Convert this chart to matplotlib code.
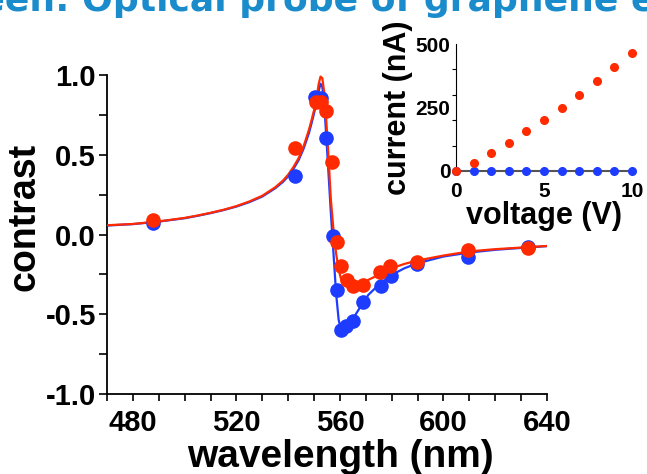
import numpy as np
import matplotlib.pyplot as plt
from matplotlib.ticker import MultipleLocator

plt.rcParams['font.family'] = ['Liberation Sans', 'DejaVu Sans']
plt.rcParams['font.weight'] = 'bold'

# --- datos: espectro de contraste ---
blue_wl = [487.7, 542.6, 550.3, 552.6, 554.8, 557.2, 558.7, 560.3, 562.3,
           565.2, 569.0, 575.7, 579.6, 589.7, 609.4, 632.6]
blue_c = [0.075, 0.367, 0.864, 0.858, 0.607, -0.008, -0.347, -0.597, -0.576,
          -0.545, -0.426, -0.322, -0.263, -0.184, -0.144, -0.081]

red_wl = [487.7, 542.6, 550.7, 552.6, 554.8, 556.8, 558.7, 560.6, 562.8,
          565.2, 568.8, 575.5, 579.4, 589.7, 609.4, 632.6]
red_c = [0.092, 0.541, 0.833, 0.833, 0.775, 0.453, -0.044, -0.200, -0.288,
         -0.326, -0.315, -0.238, -0.200, -0.173, -0.096, -0.086]

# curvas de ajuste
fit_wl = [470, 480, 490, 500, 505, 510, 515, 520, 525, 530, 535, 538, 540,
          542, 544, 546, 548, 549, 550, 551, 551.8, 552.5, 553.2, 554, 554.7,
          555.5, 556.5, 557.5, 558.5, 559.5, 560.5, 562, 564, 566, 568, 571,
          575, 580, 585, 590, 600, 610, 620, 630, 640]
fit_blue = [0.056, 0.065, 0.081, 0.102, 0.117, 0.134, 0.153, 0.175, 0.203,
            0.238, 0.29, 0.33, 0.365, 0.41, 0.465, 0.54, 0.635, 0.695, 0.76,
            0.83, 0.90, 0.945, 0.925, 0.80, 0.62, 0.405, 0.134, -0.117, -0.367,
            -0.534, -0.607, -0.597, -0.555, -0.503, -0.451, -0.378, -0.315,
            -0.253, -0.211, -0.180, -0.138, -0.113, -0.096, -0.084, -0.073]
fit_red = [0.058, 0.066, 0.082, 0.104, 0.119, 0.136, 0.155, 0.178, 0.207,
           0.243, 0.296, 0.338, 0.375, 0.422, 0.478, 0.555, 0.655, 0.715, 0.78,
           0.86, 0.945, 0.99, 0.98, 0.88, 0.72, 0.51, 0.217, 0.029, -0.117,
           -0.221, -0.284, -0.315, -0.326, -0.321, -0.309, -0.284, -0.253,
           -0.211, -0.184, -0.163, -0.132, -0.106, -0.092, -0.082, -0.072]

# --- datos: curva I-V (inset) ---
voltage = [0, 1, 2, 3, 4, 5, 6, 7, 8, 9, 10]
current_red = [0, 31.6, 69.7, 111.8, 156.6, 202.6, 250, 298.7, 353.9, 407.9, 465.8]
current_blue = [0, 0, 0, 0, 0, 0, 0, 0, 0, 0, 0]

BLUE = '#1d3cff'
RED = '#ff2a00'

fig = plt.figure(figsize=(6.47, 4.74), dpi=100)

# titulo (cortado arriba, como en la diapositiva)
title_kw = dict(color='#1a8ccc', fontsize=26, fontweight='bold',
                family=['DejaVu Sans'], ha='left', va='baseline')
prefix = 'Screen: '
renderer = fig.canvas.get_renderer()
tmp = fig.text(0, 0, prefix, **title_kw)
pre_w = tmp.get_window_extent(renderer).width
tmp.remove()
fig.text((82 - pre_w) / 647, 1.0 - 11 / 474,
         prefix + 'Optical probe of graphene electronic structure', **title_kw)

ax = fig.add_axes([107 / 647, 80 / 474, 440 / 647, 319 / 474])
ax.plot(fit_wl, fit_blue, color=BLUE, lw=1.6, zorder=2)
ax.plot(fit_wl, fit_red, color=RED, lw=1.6, zorder=3)
ax.plot(blue_wl, blue_c, 'o', color=BLUE, ms=9.5, zorder=4)
ax.plot(red_wl, red_c, 'o', color=RED, ms=9.5, zorder=5)

ax.set_xlim(470, 640)
ax.set_ylim(-1.0, 1.0)
ax.set_xticks([480, 520, 560, 600, 640])
ax.xaxis.set_minor_locator(MultipleLocator(10))
ax.set_yticks([-1.0, -0.5, 0.0, 0.5, 1.0])
ax.set_yticklabels(['-1.0', '-0.5', '0.0', '0.5', '1.0'])
ax.yaxis.set_minor_locator(MultipleLocator(0.25))
for side in ['top', 'right']:
    ax.spines[side].set_visible(False)
for side in ['left', 'bottom']:
    ax.spines[side].set_linewidth(1.3)
ax.tick_params(axis='both', which='both', direction='out', width=1.2,
               labelsize=21)
ax.tick_params(axis='y', which='both', length=6, pad=2)
ax.tick_params(axis='x', which='both', length=5, pad=6)
ax.set_xlabel('wavelength (nm)', fontsize=28, fontweight='bold')
ax.set_ylabel('contrast', fontsize=27, fontweight='bold')
ax.xaxis.set_label_coords(0.53, -0.14)
ax.yaxis.set_label_coords(-0.147, 0.555)

# --- inset ---
axi = fig.add_axes([456 / 647, (474 - 171) / 474, 176 / 647, 127 / 474])
axi.plot(voltage, current_blue, 'o', color=BLUE, ms=5.5, clip_on=False, zorder=4)
axi.plot(voltage, current_red, 'o', color=RED, ms=5.5, clip_on=False, zorder=5)
axi.set_xlim(0, 10)
axi.set_ylim(0, 500)
axi.set_xticks([0, 5, 10])
axi.set_yticks([0, 250, 500])
axi.set_yticks([100, 200, 300, 400, 500], minor=True)
for side in ['top', 'right']:
    axi.spines[side].set_visible(False)
axi.spines['bottom'].set_color('#555555')
axi.spines['bottom'].set_linewidth(1.5)
axi.tick_params(axis='x', which='both', length=0, labelsize=15, pad=8)
axi.tick_params(axis='y', which='major', length=0, labelsize=15, pad=4)
axi.tick_params(axis='y', which='minor', length=3, width=0.8)
axi.set_xlabel('voltage (V)', fontsize=22, fontweight='bold', labelpad=0)
axi.set_ylabel('current (nA)', fontsize=22, fontweight='bold', labelpad=2)
axi.patch.set_alpha(0)

fig.savefig('out.png', dpi=100)
